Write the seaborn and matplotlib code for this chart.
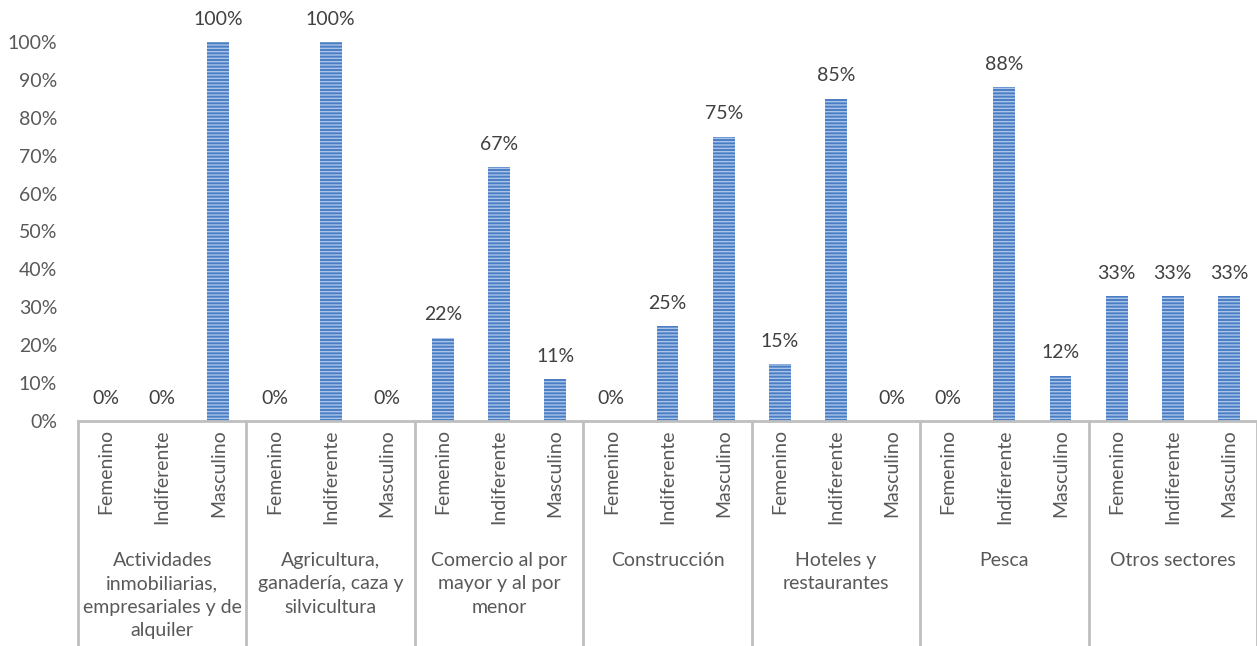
import matplotlib
matplotlib.use("Agg")
import matplotlib.pyplot as plt
import seaborn as sns
import pandas as pd
from matplotlib.lines import Line2D
from matplotlib.transforms import blended_transform_factory

sectors = [
    "Actividades\ninmobiliarias,\nempresariales y de\nalquiler",
    "Agricultura,\nganadería, caza y\nsilvicultura",
    "Comercio al por\nmayor y al por\nmenor",
    "Construcción",
    "Hoteles y\nrestaurantes",
    "Pesca",
    "Otros sectores",
]
genders = ["Femenino", "Indiferente", "Masculino"]
femenino = [0, 0, 22, 0, 15, 0, 33]
indiferente = [0, 100, 67, 25, 85, 88, 33]
masculino = [100, 0, 11, 75, 0, 12, 33]

rows = []
for i, s in enumerate(sectors):
    for g, vals in zip(genders, [femenino, indiferente, masculino]):
        rows.append({"bar": f"{i}|{g}", "sector": s, "gender": g, "value": vals[i]})
df = pd.DataFrame(rows)
order = list(df["bar"])

sns.set_theme(style="white")
plt.rcParams["font.family"] = ["Lato", "DejaVu Sans"]
plt.rcParams["hatch.linewidth"] = 1.0

W, H = 1257, 646
fig = plt.figure(figsize=(W / 100, H / 100), dpi=100)
left, right, bottom_px, top_px = 78, 1257, 421, 42
ax = fig.add_axes([left / W, (H - bottom_px) / H, (right - left) / W, (bottom_px - top_px) / H])

sns.barplot(data=df, x="bar", y="value", order=order, color="#4A7EC4",
            width=0.39, ax=ax, errorbar=None, saturation=1)
for p in ax.patches:
    p.set_hatch("-----")
    p.set_edgecolor("#A9C4E8")
    p.set_linewidth(0)

text_color = "#595959"
fs = 14
ax.set_xlim(-0.5, len(order) - 0.5)
ax.set_ylim(0, 100)
ax.set_yticks(range(0, 101, 10))
ax.set_yticklabels([f"{v}%" for v in range(0, 101, 10)], color=text_color, fontsize=fs)
ax.set_xticks(range(len(order)))
ax.set_xticklabels(list(df["gender"]), rotation=90, color=text_color, fontsize=fs,
                   va="top", ha="center")
ax.tick_params(axis="x", length=0, pad=6)
ax.tick_params(axis="y", length=0, pad=15)
ax.set_xlabel("")
ax.set_ylabel("")
for side in ["left", "right", "top"]:
    ax.spines[side].set_visible(False)
ax.spines["bottom"].set_color("#BFBFBF")
ax.spines["bottom"].set_linewidth(2)

# value labels
for x, v in enumerate(df["value"]):
    ax.annotate(f"{v}%", (x, v), xytext=(0, 16.5), textcoords="offset points",
                ha="center", va="center", color="#404040", fontsize=fs,
                annotation_clip=False)

trans = blended_transform_factory(ax.transData, ax.transAxes)
ax_h = bottom_px - top_px
ybot = -(H - bottom_px) / ax_h
for k in range(len(sectors) + 1):
    xs = k * 3 - 0.5
    ax.add_line(Line2D([xs, xs], [0, ybot], transform=trans, color="#BFBFBF",
                       lw=2, clip_on=False))
for i, s in enumerate(sectors):
    ax.text(i * 3 + 1, -(552 - bottom_px) / ax_h, s, transform=trans, ha="center",
            va="top", color=text_color, fontsize=fs, linespacing=1.45, clip_on=False)

fig.savefig("out.png", dpi=100)
